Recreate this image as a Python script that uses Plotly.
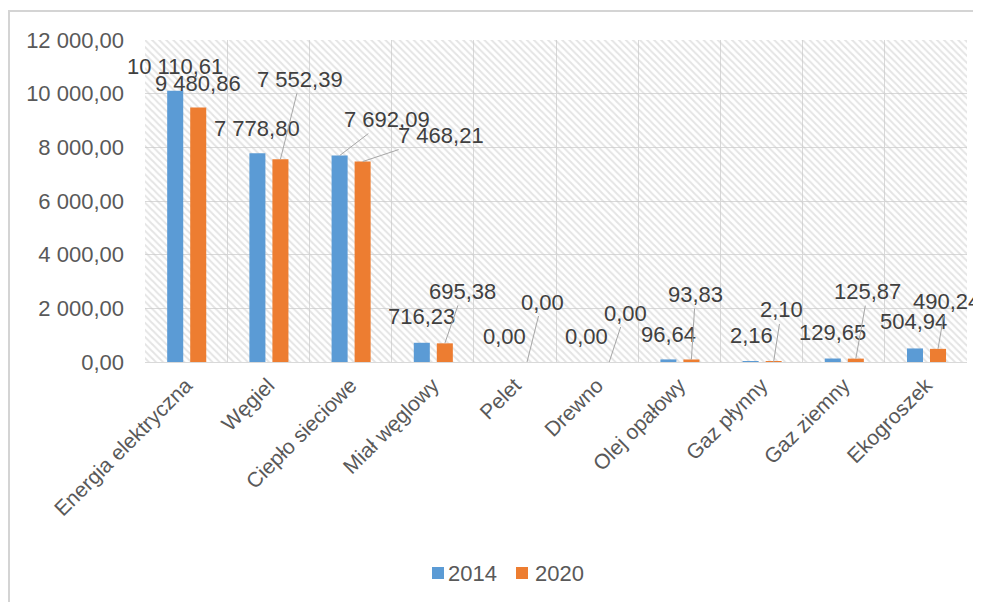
import plotly.graph_objects as go

categories = ["Energia elektryczna", "Węgiel", "Ciepło sieciowe", "Miał węglowy", "Pelet",
              "Drewno", "Olej opałowy", "Gaz płynny", "Gaz ziemny", "Ekogroszek"]
series_names = ["2014", "2020"]
values_2014 = [10110.61, 7778.80, 7692.09, 716.23, 0.00, 0.00, 96.64, 2.16, 129.65, 504.94]
values_2020 = [9480.86, 7552.39, 7468.21, 695.38, 0.00, 0.00, 93.83, 2.10, 125.87, 490.24]
y_ticks = [0, 2000, 4000, 6000, 8000, 10000, 12000]
y_max = 12000

# style / placement (page has an 8px body margin, so the figure starts at (8, 8))
PAGE_OFF = 8
W, H = 981 - PAGE_OFF, 602 - PAGE_OFF
ML, MT = 145 - PAGE_OFF, 40 - PAGE_OFF
PW, PH = 822, 322
MR, MB = W - ML - PW, H - MT - PH
colors = ["#5B9BD5", "#ED7D31"]
bar_offsets = [-0.23, 0.05]
bar_width = 0.195
label_offsets_2014 = [(0, -24), (0, -25), (47, -36), (0, -26), (0, -26), (0, -26), (0, -25), (1, -26), (0, -26), (-2, -27)]
leader_2014 = [False, False, True, False, False, False, False, False, False, False]
label_offsets_2020 = [(0, -24), (20, -80), (78, -26), (18, -52), (15, -60), (16, -49), (4, -65), (8, -52), (12, -67), (8, -47)]
leader_2020 = [False, True, True, True, True, True, True, True, True, True]
legend_square_px = [432, 516]   # left edge of legend squares (page pixels)
legend_text_px = [446, 533]     # left edge of legend texts (page pixels)
legend_y_px = 573

FONT = "Liberation Sans, Arial, sans-serif"


def fmt(v):
    return f"{v:,.2f}".replace(",", " ").replace(".", ",")


def px_x(p):
    return (p - PAGE_OFF - ML) / PW


def px_y(p):
    return (MT + PH - (p - PAGE_OFF)) / PH


idx = list(range(len(categories)))
fig = go.Figure()

# hatched plot-area background
fig.add_trace(go.Bar(
    x=[(len(categories) - 1) / 2], y=[y_max], width=[len(categories)],
    marker=dict(color="rgba(0,0,0,0)", line=dict(width=0),
                pattern=dict(shape="\\", fgcolor="#cacaca", bgcolor="rgba(0,0,0,0)",
                             size=5, solidity=0.4)),
    showlegend=False, hoverinfo="skip"))

for name, vals, col, off in zip(series_names, [values_2014, values_2020], colors, bar_offsets):
    fig.add_trace(go.Bar(
        x=idx, y=vals, name=name, offset=off, width=bar_width, showlegend=False,
        marker=dict(color=col, line=dict(width=0))))

annotations = []
for vals, off, offsets, leaders in [(values_2014, bar_offsets[0], label_offsets_2014, leader_2014),
                                     (values_2020, bar_offsets[1], label_offsets_2020, leader_2020)]:
    for i, v in enumerate(vals):
        ax, ay = offsets[i]
        annotations.append(dict(
            x=i + off + bar_width / 2, y=v, xref="x", yref="y",
            text=fmt(v), showarrow=True, arrowhead=0, arrowwidth=1,
            arrowcolor="#a6a6a6" if leaders[i] else "rgba(0,0,0,0)",
            ax=ax, ay=ay, standoff=0,
            font=dict(family=FONT, size=22, color="#404040")))

shapes = [dict(type="rect", xref="paper", yref="paper",
               x0=px_x(9), x1=px_x(1010), y0=px_y(640), y1=px_y(11),
               line=dict(color="#d4d4d4", width=2), layer="below")]

# manual legend (tight symbol/text spacing like the reference)
for name, col, sq, tx in zip(series_names, colors, legend_square_px, legend_text_px):
    shapes.append(dict(type="rect", xref="paper", yref="paper",
                       x0=px_x(sq), x1=px_x(sq + 12), y0=px_y(legend_y_px + 6), y1=px_y(legend_y_px - 6),
                       fillcolor=col, line=dict(width=0)))
    annotations.append(dict(x=px_x(tx), y=px_y(legend_y_px), xref="paper", yref="paper",
                            xanchor="left", yanchor="middle", showarrow=False, text=name,
                            font=dict(family=FONT, size=22, color="#595959")))

fig.update_layout(
    width=W, height=H,
    margin=dict(l=ML, r=MR, t=MT, b=MB, autoexpand=False),
    paper_bgcolor="white", plot_bgcolor="white",
    barmode="overlay",
    font=dict(family=FONT, size=21, color="#595959"),
    showlegend=False,
    annotations=annotations,
    shapes=shapes,
)

fig.update_xaxes(
    range=[-0.5, len(categories) - 0.5], automargin=False,
    tickvals=idx, ticktext=categories, tickangle=-45,
    showgrid=False, zeroline=False, showline=False, ticks="",
    minor=dict(tick0=0.5, dtick=1, showgrid=True, gridcolor="#d9d9d9", gridwidth=1),
    tickfont=dict(size=21, color="#595959"), ticklabelstandoff=6)
fig.update_yaxes(
    range=[0, y_max], automargin=False,
    tickvals=y_ticks, ticktext=[fmt(t) for t in y_ticks],
    showgrid=True, gridcolor="#d9d9d9", gridwidth=1,
    zeroline=True, zerolinecolor="#d9d9d9", zerolinewidth=1,
    showline=False, ticks="",
    tickfont=dict(size=22, color="#595959"), ticklabelstandoff=20)

fig.write_html("out.html")
